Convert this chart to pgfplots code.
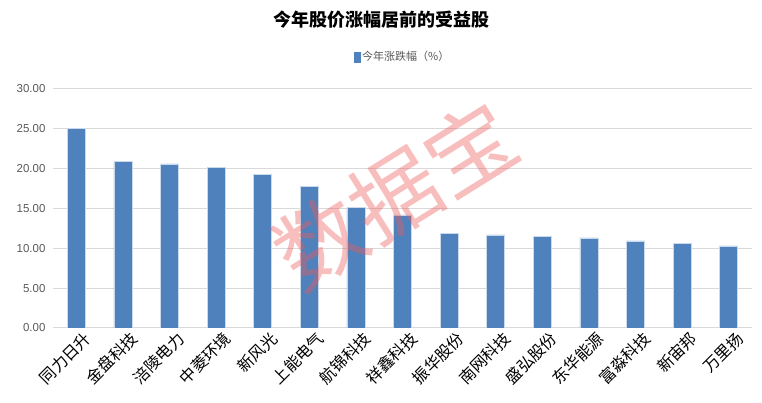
\documentclass[border=0pt]{standalone}
\usepackage{pgfplots}
\pgfplotsset{compat=1.18}
\usepackage{fontspec}
\setmainfont{Liberation Sans}
\newfontfamily\cjk{Noto Sans CJK SC}
\definecolor{barblue}{HTML}{4F81BD}
\definecolor{gridgray}{HTML}{D9D9D9}
\definecolor{ticktext}{HTML}{595959}
\definecolor{wmred}{HTML}{EE5A5A}

\begin{document}
\begin{tikzpicture}
\path[use as bounding box] (0,0) rectangle (762pt,403pt);
\begin{axis}[
    at={(53pt,75pt)}, anchor=south west,
    scale only axis,
    width=699pt, height=239pt,
    xmin=-0.5, xmax=14.5,
    ymin=0, ymax=30,
    ytick={0,5,...,30},
    xtick=data,
    xticklabels={同力日升,金盘科技,涪陵电力,中菱环境,新风光,上能电气,航锦科技,祥鑫科技,振华股份,南网科技,盛弘股份,东华能源,富淼科技,新宙邦,万里扬},
    x tick label style={font=\cjk\fontsize{16}{16}\selectfont, rotate=45, anchor=north east, text=black, inner sep=1pt, yshift=-5pt, xshift=4pt},
    y tick label style={font=\fontsize{11.5}{12}\selectfont, text=ticktext, xshift=-4pt},
    yticklabel={\pgfmathprintnumber[fixed,fixed zerofill,precision=2]{\tick}},
    /pgf/number format/assume math mode=true,
    ymajorgrids=true,
    grid style={gridgray, line width=1pt},
    axis line style={draw=none},
    major tick length=0pt,
    ybar, bar width=18pt,
    legend style={at={(0.5,1)}, yshift=32pt, anchor=center, draw=none, fill=none,
        font=\cjk\fontsize{11}{11}\selectfont, text=ticktext},
    legend image code/.code={\fill[barblue] (0pt,-5pt) rectangle (6pt,5pt);},
]
\addplot[fill=barblue, draw=white!70!barblue, line width=0.5pt] coordinates {
    (0,25.05) (1,20.90) (2,20.60) (3,20.20) (4,19.30) (5,17.80) (6,15.10)
    (7,14.20) (8,11.90) (9,11.70) (10,11.50) (11,11.30) (12,10.95) (13,10.66) (14,10.30)
};
\addlegendentry{今年涨跌幅（\%）}
\end{axis}
\node[font=\cjk\bfseries\fontsize{18}{18}\selectfont] at (381pt,383pt) {今年股价涨幅居前的受益股};
\node[font=\cjk\fontsize{88}{88}\selectfont, text=wmred, text opacity=0.4, rotate=32] at (395pt,208pt) {数据宝};
\end{tikzpicture}
\end{document}
